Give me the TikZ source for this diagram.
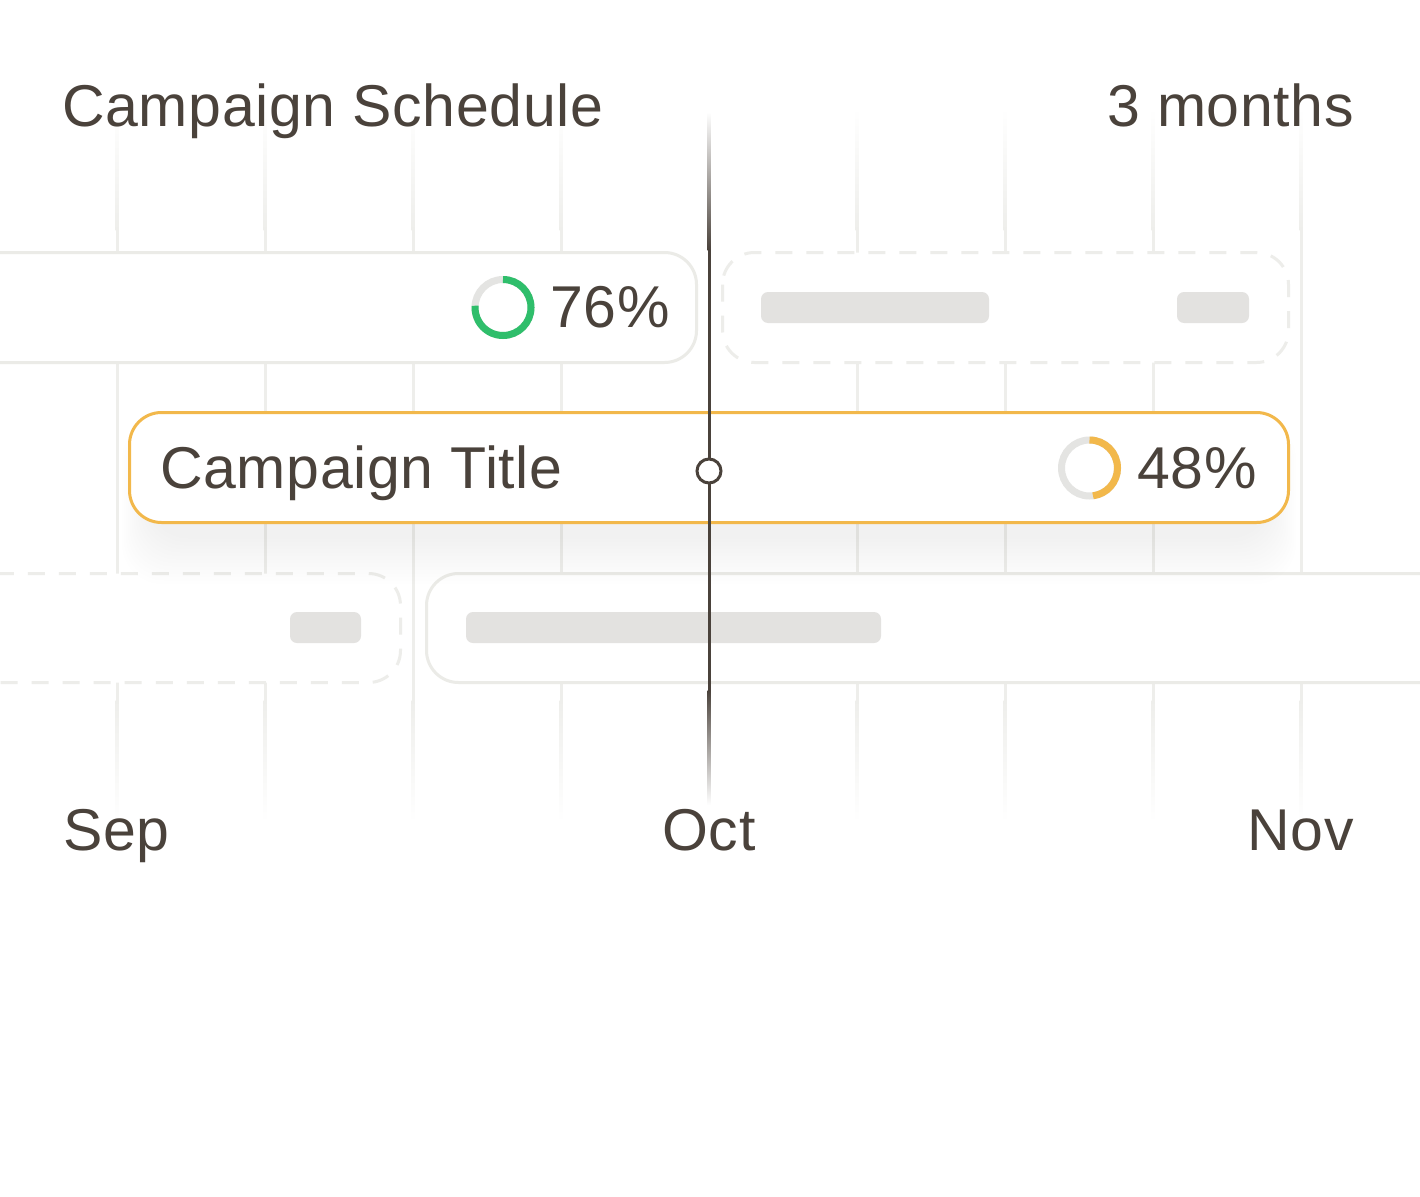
\documentclass[tikz,border=0pt]{standalone}
\usepackage{fontspec}
\usetikzlibrary{calc}
\setmainfont{Liberation Sans}[LetterSpace=1.1]
\definecolor{ink}{HTML}{4A423B}
\definecolor{gridc}{HTML}{EEEEEB}
\definecolor{boxc}{HTML}{EBEBE7}
\definecolor{dashc}{HTML}{EDEDEA}
\definecolor{barc}{HTML}{E3E2E0}
\definecolor{greenc}{HTML}{2FBE6B}
\definecolor{yellowc}{HTML}{F2B84B}
\definecolor{ringc}{HTML}{E4E4E2}
\definecolor{shadowc}{HTML}{3A3228}
\begin{document}
\begin{tikzpicture}[x=1pt,y=-1pt,
  txt/.style={text=ink,font=\fontsize{59}{70}\selectfont,inner sep=0pt},
  card/.style={draw=boxc,line width=3pt,fill=white,rounded corners=32pt},
  dcard/.style={draw=dashc,line width=3pt,fill=white,rounded corners=32pt,dash pattern=on 17pt off 14pt},
  hicard/.style={draw=yellowc,line width=3pt,fill=white,rounded corners=32pt},
  bar/.style={fill=barc,rounded corners=7pt},
  ringbg/.style={draw=ringc,line width=7pt},
  ringfg/.style={line width=7pt},
  marker/.style={circle,draw=ink,fill=white,line width=3pt,minimum size=24pt,inner sep=0pt}
]
\useasboundingbox (0,0) rectangle (1420,1196);
\fill[white] (0,0) rectangle (1420,1196);
\clip (0,0) rectangle (1420,1196);

% grid lines, fading at both ends
\foreach \gx in {117,265,413,561,857,1005,1153,1301}{
  \shade[top color=white,bottom color=gridc] ({\gx-1.5},108) rectangle ({\gx+1.5},230);
  \fill[gridc] ({\gx-1.5},229.5) rectangle ({\gx+1.5},700.5);
  \shade[top color=gridc,bottom color=white] ({\gx-1.5},700) rectangle ({\gx+1.5},822);
}

% top row
\draw[card] (-60,252.5) rectangle (696.5,362.5);
\draw[dcard] (722.5,252.5) rectangle (1288.5,362.5);
\fill[bar] (761,292) rectangle (989,323);
\fill[bar] (1177,292) rectangle (1249,323);

% bottom row
\draw[dcard] (-60,573.5) rectangle (400.5,682.5);
\fill[bar] (290,612) rectangle (361,643);
\draw[card] (426.5,573.5) rectangle (1480,682.5);
\fill[bar] (466,612) rectangle (881,643);

% shadow of highlighted card
\foreach \i in {1,...,14}{
  \fill[shadowc,opacity=0.005,rounded corners=40pt]
    ({150-\i*2},{440-\i*1.5}) rectangle ({1268+\i*2},{535+\i*3.5});
}

% highlighted card
\draw[hicard] (129.5,412.5) rectangle (1288.5,522.5);

% Oct line
\coordinate (octtop) at (709,112);
\coordinate (octbot) at (709,805);
\shade[top color=white,bottom color=ink] ($(octtop)+(-1.5,0)$) rectangle (710.5,250);
\fill[ink] (707.5,249.5) rectangle (710.5,690.5);
\shade[top color=ink,bottom color=white] (707.5,690) rectangle ($(octbot)+(1.5,0)$);
\node[marker] (mark) at (709,471) {};

% rings
\draw[ringbg] (503,307.5) circle[radius=28];
\draw[ringfg,draw=greenc] (503,307.5) ++(-90:28) arc[start angle=-90,end angle=183.6,radius=28];
\draw[ringbg] (1089.5,468) circle[radius=28];
\draw[ringfg,draw=yellowc] (1089.5,468) ++(-90:28) arc[start angle=-90,end angle=82.8,radius=28];

% texts
\node[txt,anchor=base west] (title) at (62,126) {Campaign Schedule};
\node[txt,anchor=base east] (span) at (1354,126) {3 months};
\node[txt,anchor=base west] (pa) at (550,327) {76\%};
\node[txt,anchor=base west] (ctitle) at (160,488) {Campaign Title};
\node[txt,anchor=base west] (pb) at (1137,488) {48\%};
\node[txt,anchor=base west] (sep) at (63,850) {Sep};
\node[txt,anchor=base] (oct) at (709,850) {Oct};
\node[txt,anchor=base east] (nov) at (1354,850) {Nov};
\end{tikzpicture}
\end{document}
